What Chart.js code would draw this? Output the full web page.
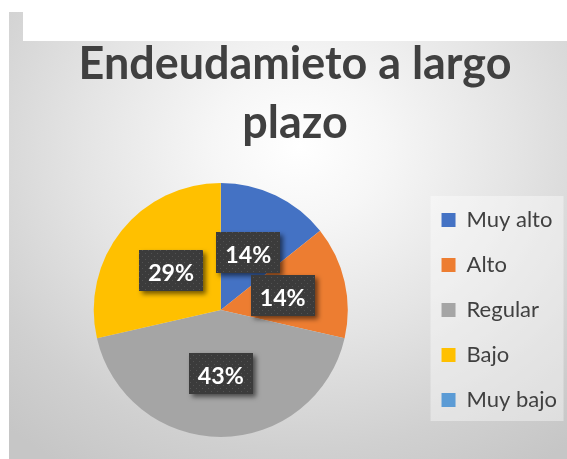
<!DOCTYPE html>
<html><head><meta charset="utf-8">
<script src="https://cdn.jsdelivr.net/npm/chart.js@4"></script>
<style>
html,body{margin:0;padding:0;background:#fff;width:567px;height:459px;overflow:hidden}
#bg{position:absolute;left:9px;top:12px;width:558px;height:447px;
  background:radial-gradient(ellipse 78% 85% at 52% 30%, #ffffff 0%, #f6f6f6 20%, #e4e4e4 50%, #d0d0d0 80%, #c6c6c6 100%)}
#mask{position:absolute;left:23px;top:0;width:544px;height:41px;background:#fff}
#c{position:absolute;left:0;top:0}
</style></head><body>
<div id="bg"></div><div id="mask"></div>
<canvas id="c" width="567" height="459"></canvas>
<script>
const titleLines = ['Endeudamieto a largo', 'plazo'];
const categories = ['Muy alto', 'Alto', 'Regular', 'Bajo', 'Muy bajo'];
const counts = [1, 1, 3, 2, 0];
const colors = ['#4472C4', '#ED7D31', '#A5A5A5', '#FFC000', '#5B9BD5'];

const FONT = 'Lato';
const mctx = document.createElement('canvas').getContext('2d');
function fit(text, weight, target) {
  mctx.font = weight + ' 100px ' + FONT;
  return 100 * target / mctx.measureText(text).width;
}
const titleSize = fit(titleLines[0], 'bold', 433);
const legendSize = Math.round(fit('Muy alto', 'normal', 84));
const labelSize = fit('43%', 'bold', 46);
mctx.font = 'bold ' + titleSize + 'px ' + FONT;
mctx.textBaseline = 'middle';
const midToBase = mctx.measureText('E').actualBoundingBoxDescent;
const titleLH = 59;
const titlePadTop = 79 - midToBase - titleLH / 2;
const titlePadBottom = 183 - titlePadTop - 2 * titleLH;
const legendPad = 45 - legendSize;

// dotted dark pattern for data label boxes
const pc = document.createElement('canvas');
pc.width = 6; pc.height = 6;
const p = pc.getContext('2d');
p.fillStyle = '#3b3b3b'; p.fillRect(0, 0, 6, 6);
p.fillStyle = '#525252'; p.fillRect(1, 1, 1, 1); p.fillRect(4, 4, 1, 1);
const pattern = p.createPattern(pc, 'repeat');

const legendPanel = {
  id: 'legendPanel',
  beforeDraw(chart) {
    const hb = chart.legend && chart.legend.legendHitBoxes;
    if (!hb || !hb.length) return;
    const ctx = chart.ctx;
    const x = hb[0].left - 11, y = hb[0].top - 13;
    const last = hb[hb.length - 1];
    ctx.save();
    ctx.fillStyle = 'rgba(255,255,255,0.4)';
    ctx.fillRect(x, y, 133, last.top + last.height + 10 - y);
    ctx.restore();
  }
};

const boxLabels = {
  id: 'boxLabels',
  afterDatasetsDraw(chart) {
    const ctx = chart.ctx;
    const meta = chart.getDatasetMeta(0);
    const total = counts.reduce((a, b) => a + b, 0);
    ctx.save();
    ctx.font = 'bold ' + labelSize + 'px ' + FONT;
    const cap = ctx.measureText('4').actualBoundingBoxAscent;
    ctx.restore();
    meta.data.forEach((arc, i) => {
      const v = counts[i];
      if (!v) return;
      const pos = arc.tooltipPosition();
      const w = 64, h = 41;
      const bx = Math.round(pos.x - w / 2), by = Math.round(pos.y - h / 2);
      ctx.save();
      ctx.shadowColor = 'rgba(0,0,0,0.55)';
      ctx.shadowBlur = 5;
      ctx.shadowOffsetX = 3;
      ctx.shadowOffsetY = 3;
      ctx.fillStyle = pattern;
      ctx.fillRect(bx, by, w, h);
      ctx.restore();
      ctx.save();
      ctx.fillStyle = '#ffffff';
      ctx.font = 'bold ' + labelSize + 'px ' + FONT;
      ctx.textAlign = 'center';
      ctx.textBaseline = 'alphabetic';
      ctx.fillText(Math.round(v / total * 100) + '%', pos.x, pos.y + cap / 2 + 2);
      ctx.restore();
    });
  }
};

new Chart(document.getElementById('c'), {
  type: 'pie',
  data: {
    labels: categories,
    datasets: [{
      data: counts,
      backgroundColor: colors,
      borderWidth: 0
    }]
  },
  options: {
    responsive: false,
    animation: false,
    layout: { padding: { left: 23, right: 0, top: 0, bottom: 22 } },
    plugins: {
      title: {
        display: true,
        text: titleLines,
        color: '#404040',
        font: { family: FONT, weight: 'bold', size: titleSize, lineHeight: titleLH / titleSize },
        padding: { top: titlePadTop, bottom: titlePadBottom }
      },
      legend: {
        position: 'right',
        fullSize: false,
        maxWidth: 151,
        labels: {
          boxWidth: 14,
          boxHeight: 14,
          padding: legendPad,
          color: '#404040',
          font: { family: FONT, size: legendSize }
        }
      },
      tooltip: { enabled: false }
    }
  },
  plugins: [legendPanel, boxLabels]
});
</script>
</body></html>
